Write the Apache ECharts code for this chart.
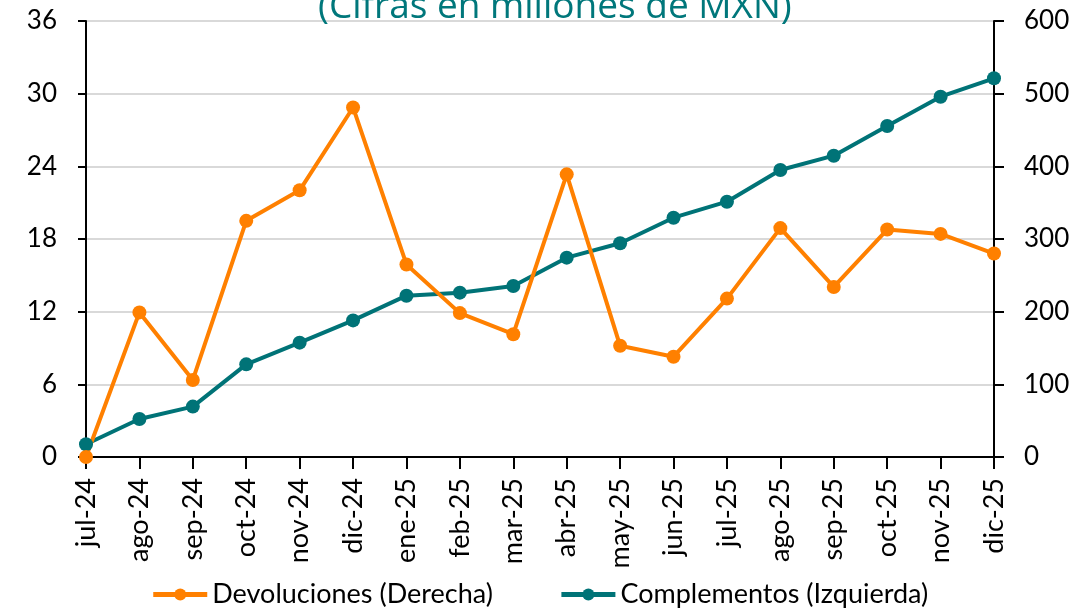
<!DOCTYPE html>
<html>
<head>
<meta charset="utf-8">
<script src="https://cdn.jsdelivr.net/npm/echarts@6/dist/echarts.min.js"></script>
<style>
  html, body { margin: 0; padding: 0; background: #fff; }
  #chart { width: 1079px; height: 612px; }
</style>
</head>
<body>
<div id="chart"></div>
<script>
// meses
const months = ["jul-24", "ago-24", "sep-24", "oct-24", "nov-24", "dic-24", "ene-25", "feb-25", "mar-25",
  "abr-25", "may-25", "jun-25", "jul-25", "ago-25", "sep-25", "oct-25", "nov-25", "dic-25"];
// eje derecho
const devoluciones = [0, 199, 106, 325, 367, 481, 265, 198, 169, 389, 153, 138, 218, 315, 234, 313, 307, 280];
// eje izquierdo
const complementos = [1.05, 3.14, 4.16, 7.65, 9.44, 11.28, 13.32, 13.57, 14.12, 16.46, 17.65, 19.76, 21.08, 23.7, 24.88, 27.33, 29.75, 31.27];
const leftTicks = [0, 6, 12, 18, 24, 30, 36];
const rightTicks = [0, 100, 200, 300, 400, 500, 600];

const orange = "#ff8000";
const teal = "#007377";
const labelFont = "Lato, 'Liberation Sans', sans-serif";

let chart = echarts.init(document.getElementById("chart"));
let option = {
  animation: false,
  title: {
    text: "(Cifras en millones de MXN)",
    left: 318,
    top: -11,
    padding: 0,
    textStyle: {
      color: "#00777b",
      fontFamily: "'Open Sans', sans-serif",
      fontWeight: "normal",
      fontSize: 37
    }
  },
  grid: {
    left: 86,
    right: 85,
    top: 21,
    bottom: 155
  },
  legend: {
    data: ["Devoluciones (Derecha)", "Complementos (Izquierda)"],
    top: 576,
    left: "center",
    itemWidth: 54,
    itemHeight: 15,
    itemGap: 66,
    lineStyle: { width: 5 },
    textStyle: {
      fontFamily: labelFont,
      fontSize: 27,
      color: "#000"
    }
  },
  xAxis: {
    type: "category",
    data: months,
    boundaryGap: false,
    axisLine: { lineStyle: { color: "#000", width: 2 } },
    axisTick: { show: true, length: 12, lineStyle: { color: "#000", width: 2 } },
    axisLabel: {
      rotate: 90,
      margin: 21,
      color: "#000",
      fontFamily: labelFont,
      fontSize: 27
    }
  },
  yAxis: [
    {
      type: "value",
      min: leftTicks[0],
      max: leftTicks[leftTicks.length - 1],
      interval: 6,
      position: "left",
      axisLine: { show: true, lineStyle: { color: "#000", width: 2 } },
      axisTick: { show: true, length: 8, lineStyle: { color: "#000", width: 2 } },
      axisLabel: { margin: 29, color: "#000", fontFamily: labelFont, fontSize: 26 },
      splitLine: { lineStyle: { color: "#d9d9d9", width: 2 } }
    },
    {
      type: "value",
      min: rightTicks[0],
      max: rightTicks[rightTicks.length - 1],
      interval: 100,
      position: "right",
      axisLine: { show: true, lineStyle: { color: "#000", width: 2 } },
      axisTick: { show: true, length: 10, lineStyle: { color: "#000", width: 2 } },
      axisLabel: { margin: 30, color: "#000", fontFamily: labelFont, fontSize: 26 },
      splitLine: { show: false }
    }
  ],
  series: [
    {
      name: "Complementos (Izquierda)",
      type: "line",
      yAxisIndex: 0,
      data: complementos,
      symbol: "circle",
      symbolSize: 14,
      color: teal,
      lineStyle: { width: 4, color: teal },
      itemStyle: { color: teal }
    },
    {
      name: "Devoluciones (Derecha)",
      type: "line",
      yAxisIndex: 1,
      data: devoluciones,
      symbol: "circle",
      symbolSize: 14,
      color: orange,
      lineStyle: { width: 4, color: orange },
      itemStyle: { color: orange }
    }
  ]
};
chart.setOption(option);

window.addEventListener("resize", function() {
  chart.resize();
});
</script>
</body>
</html>
